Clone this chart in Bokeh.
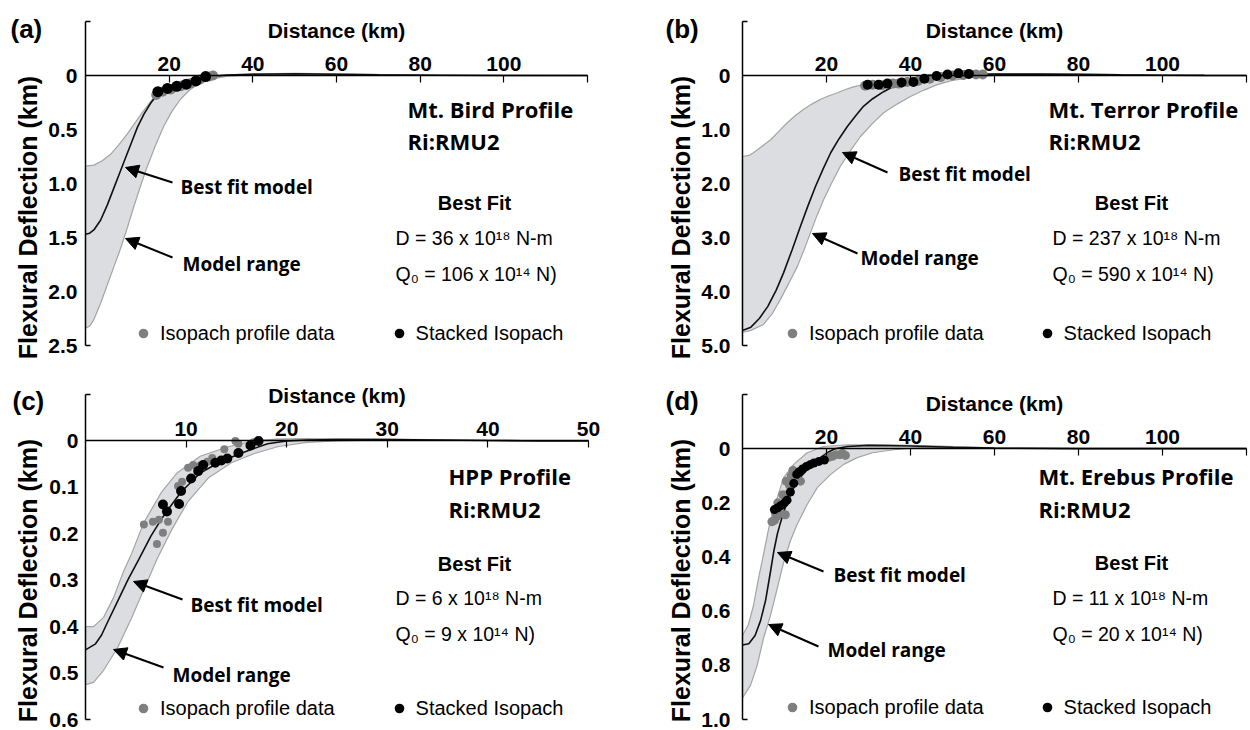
import math

from bokeh.embed import file_html
from bokeh.layouts import column, row
from bokeh.models import (Arrow, FixedTicker, Label, Legend, LegendItem,
                          LinearAxis, NormalHead, Range1d)
from bokeh.plotting import figure
from bokeh.resources import INLINE

# ---------------------------------------------------------------------------
# Flexure profiles (distance in km, deflection in km, positive = downward)
# ---------------------------------------------------------------------------

# (a) Mt. Bird
BIRD_FIT_KM = [0, 1, 2, 3.6, 5.2, 6.7, 8.1, 9.6, 11.0, 12.4, 14.0, 15.6, 17.0,
               18.7, 21.0, 24.4, 27.5, 30.7, 34, 40, 50, 60, 70, 85, 100, 120]
BIRD_FIT_DEPTH = [1.47, 1.46, 1.43, 1.34, 1.20, 1.05, 0.91, 0.76, 0.62, 0.48,
                  0.355, 0.255, 0.185, 0.13, 0.085, 0.045, 0.02, 0.006, -0.004,
                  -0.012, -0.016, -0.012, -0.006, -0.002, 0, 0]
BIRD_TOP_KM = [0, 2, 4, 6, 8, 10, 12, 14, 16, 18, 20, 23, 26, 30, 34, 40, 50,
               60, 75, 90, 120]
BIRD_TOP_DEPTH = [0.84, 0.83, 0.79, 0.73, 0.64, 0.54, 0.43, 0.32, 0.22, 0.145,
                  0.095, 0.05, 0.025, 0.005, -0.006, -0.016, -0.02, -0.015,
                  -0.006, 0, 0]
BIRD_BOTTOM_KM = [0, 1, 2, 3.5, 5.2, 6.8, 8.4, 10, 11.5, 13.1, 14.7, 16.7, 18.7,
                  20.7, 22.7, 25, 27.5, 30.5, 34, 40, 50, 60, 75, 90, 120]
BIRD_BOTTOM_DEPTH = [2.34, 2.32, 2.26, 2.12, 1.94, 1.77, 1.6, 1.41, 1.22, 1.03,
                     0.85, 0.65, 0.47, 0.33, 0.22, 0.13, 0.07, 0.03, 0.005,
                     -0.008, -0.012, -0.009, -0.004, -0.001, 0]
BIRD_ISOPACH_KM = [16.9, 18.4, 20.4, 22.8, 25.0, 27.3, 29.6, 30.5]
BIRD_ISOPACH_DEPTH = [0.18, 0.15, 0.13, 0.10, 0.075, 0.04, 0.01, 0.0]
BIRD_STACKED_KM = [17.3, 19.6, 21.8, 24.1, 26.4, 28.7]
BIRD_STACKED_DEPTH = [0.15, 0.12, 0.10, 0.08, 0.05, 0.01]
BIRD_DIST_TICKS = [20, 40, 60, 80, 100, 120]
BIRD_DIST_LABELS = ["20", "40", "60", "80", "100", ""]
BIRD_DEPTH_TICKS = [0, 0.5, 1.0, 1.5, 2.0, 2.5]
BIRD_DEPTH_LABELS = ["0", "0.5", "1.0", "1.5", "2.0", "2.5"]

# (b) Mt. Terror
TERROR_FIT_KM = [0, 2, 4, 6, 8, 9.8, 11.8, 13.8, 15.6, 17.4, 19.2, 21, 23, 25,
                 27, 28.8, 31, 33.6, 36, 38.3, 40.5, 42.4, 46.4, 50, 55, 60,
                 70, 80, 90, 100, 110, 120]
TERROR_FIT_DEPTH = [4.72, 4.66, 4.5, 4.28, 3.98, 3.65, 3.23, 2.79, 2.41, 2.05,
                    1.73, 1.43, 1.17, 0.94, 0.74, 0.57, 0.43, 0.30, 0.2, 0.13,
                    0.075, 0.04, 0.005, -0.01, -0.02, -0.025, -0.025, -0.02,
                    -0.012, -0.006, -0.002, 0]
TERROR_TOP_KM = [0, 1.5, 2.6, 4.5, 6.7, 8.7, 10.7, 12.6, 14.5, 16.5, 18.6, 20.6,
                 22.6, 24.5, 26.4, 28.5, 30.5, 34.5, 38.3, 42.5, 46.4, 52, 60,
                 70, 80, 95, 110, 120]
TERROR_TOP_DEPTH = [1.50, 1.48, 1.43, 1.32, 1.19, 1.03, 0.87, 0.74, 0.63, 0.53,
                    0.44, 0.375, 0.32, 0.26, 0.21, 0.175, 0.15, 0.105, 0.07,
                    0.04, 0.02, -0.01, -0.03, -0.032, -0.025, -0.012, -0.003, 0]
TERROR_BOTTOM_KM = [0, 2, 5, 7, 9, 11, 13.1, 14.7, 16.2, 17.7, 19.3, 21.3, 23.3,
                    25.7, 28.1, 30.8, 33.6, 36.8, 40, 43.2, 46.4, 50, 55, 60,
                    70, 80, 95, 110, 120]
TERROR_BOTTOM_DEPTH = [4.76, 4.72, 4.61, 4.42, 4.15, 3.85, 3.53, 3.22, 2.91,
                       2.6, 2.3, 1.98, 1.68, 1.39, 1.13, 0.9, 0.69, 0.53, 0.39,
                       0.27, 0.17, 0.09, 0.03, 0.0, -0.018, -0.016, -0.008,
                       -0.002, 0]
TERROR_ISOPACH_KM = [29.2, 31.0, 33.2, 35.8, 37.2, 39.2, 41.8, 44.6, 47.2, 50.0,
                     52.6, 55.6, 57.2]
TERROR_ISOPACH_DEPTH = [0.19, 0.17, 0.18, 0.15, 0.15, 0.12, 0.10, 0.06, 0.03,
                        0.0, -0.01, -0.02, -0.02]
TERROR_STACKED_KM = [29.8, 32.4, 34.5, 37.9, 40.7, 43.3, 46.2, 48.8, 51.4, 53.9]
TERROR_STACKED_DEPTH = [0.17, 0.17, 0.15, 0.13, 0.12, 0.06, 0.01, -0.02, -0.04,
                        -0.03]
TERROR_DIST_TICKS = [20, 40, 60, 80, 100, 120]
TERROR_DIST_LABELS = ["20", "40", "60", "80", "100", ""]
TERROR_DEPTH_TICKS = [0, 1.0, 2.0, 3.0, 4.0, 5.0]
TERROR_DEPTH_LABELS = ["0", "1.0", "2.0", "3.0", "4.0", "5.0"]

# (c) HPP
HPP_FIT_KM = [0, 1, 1.6, 2.2, 3.2, 4.2, 5.3, 6.5, 7.5, 8.1, 9.5, 11.4, 13.4,
              15.1, 16.4, 18.1, 20, 22, 25, 30, 35, 40, 45, 50]
HPP_FIT_DEPTH = [0.45, 0.437, 0.418, 0.39, 0.345, 0.30, 0.255, 0.205, 0.17,
                 0.151, 0.11, 0.069, 0.045, 0.03, 0.019, 0.006, 0.0, -0.002,
                 -0.003, -0.003, -0.002, -0.001, 0, 0]
HPP_TOP_KM = [0, 0.8, 1.8, 2.8, 3.8, 4.5, 5.8, 7.5, 9.1, 11.4, 14.1, 16.7, 19,
              22, 30, 40, 50]
HPP_TOP_DEPTH = [0.40, 0.40, 0.38, 0.337, 0.28, 0.247, 0.176, 0.112, 0.069,
                 0.033, 0.013, 0.0, -0.004, -0.005, -0.004, -0.001, 0]
HPP_BOTTOM_KM = [0, 0.8, 1.8, 3.2, 4.5, 5.8, 7.1, 8.6, 10.2, 12.2, 14.5, 16.8,
                 19.2, 22, 25, 30, 40, 50]
HPP_BOTTOM_DEPTH = [0.525, 0.52, 0.494, 0.445, 0.385, 0.32, 0.255, 0.19, 0.13,
                    0.08, 0.047, 0.027, 0.012, 0.003, 0.0, -0.002, -0.001, 0]
HPP_ISOPACH_KM = [5.8, 6.7, 7.3, 8.2, 7.7, 7.1, 9.2, 9.6, 10.2, 10.7, 11.4, 12.1,
                  12.6, 13.8, 14.9, 15.2, 16.4, 16.7]
HPP_ISOPACH_DEPTH = [0.18, 0.174, 0.17, 0.174, 0.198, 0.222, 0.097, 0.088,
                     0.058, 0.052, 0.053, 0.045, 0.037, 0.018, 0.0, 0.006,
                     0.006, 0.003]
HPP_STACKED_KM = [7.7, 8.1, 9.3, 9.5, 10.5, 11.2, 11.7, 12.9, 13.5, 14.1, 15.2,
                  16.4, 17.2]
HPP_STACKED_DEPTH = [0.137, 0.152, 0.136, 0.108, 0.081, 0.065, 0.052, 0.047,
                     0.042, 0.038, 0.026, 0.010, 0.0]
HPP_DIST_TICKS = [10, 20, 30, 40, 50]
HPP_DIST_LABELS = ["10", "20", "30", "40", "50"]
HPP_DEPTH_TICKS = [0, 0.1, 0.2, 0.3, 0.4, 0.5, 0.6]
HPP_DEPTH_LABELS = ["0", "0.1", "0.2", "0.3", "0.4", "0.5", "0.6"]

# (d) Mt. Erebus
EREBUS_FIT_KM = [0, 1.5, 3, 4.3, 5.5, 6.6, 7.5, 8.3, 9, 10, 11, 12.2, 13.5,
                 15.4, 17, 18.6, 20.5, 22, 25, 30, 40, 50, 60, 80, 120]
EREBUS_FIT_DEPTH = [0.725, 0.72, 0.69, 0.635, 0.56, 0.46, 0.375, 0.315, 0.275,
                    0.225, 0.185, 0.145, 0.11, 0.078, 0.052, 0.032, 0.012, 0.0,
                    -0.008, -0.012, -0.01, -0.005, -0.002, 0, 0]
EREBUS_TOP_KM = [0, 1.4, 2.6, 3.8, 5.0, 6.3, 7.5, 8.3, 9.8, 12.2, 15.4, 19.3,
                 25, 35, 45, 60, 80, 120]
EREBUS_TOP_DEPTH = [0.69, 0.65, 0.58, 0.48, 0.39, 0.29, 0.215, 0.18, 0.107,
                    0.058, 0.015, -0.008, -0.014, -0.014, -0.01, -0.003, 0, 0]
EREBUS_BOTTOM_KM = [0, 1.9, 3.5, 5, 6.7, 8.3, 9.8, 11.4, 13, 15.4, 17.8, 21,
                    24.1, 27.3, 31, 36, 42, 50, 60, 80, 120]
EREBUS_BOTTOM_DEPTH = [0.92, 0.874, 0.80, 0.70, 0.614, 0.514, 0.42, 0.34, 0.28,
                       0.206, 0.144, 0.095, 0.058, 0.033, 0.015, 0.004, -0.004,
                       -0.006, -0.003, 0, 0]
EREBUS_ISOPACH_KM = [7.0, 7.6, 8.2, 8.8, 7.8, 8.4, 10.2, 9.6, 10.6, 11.2, 10.4,
                     11.6, 12.0, 12.6, 13.8, 20.5, 21.4, 22.2, 23.2, 23.8, 24.5]
EREBUS_ISOPACH_DEPTH = [0.27, 0.265, 0.25, 0.24, 0.235, 0.20, 0.244, 0.17, 0.17,
                        0.135, 0.12, 0.10, 0.08, 0.09, 0.12, 0.032, 0.028,
                        0.022, 0.022, 0.018, 0.025]
EREBUS_STACKED_KM = [7.6, 8.4, 9.2, 10.0, 10.6, 11.4, 12.2, 12.9, 13.5, 14.3,
                     15.2, 16.1, 17.0, 18.2, 19.5]
EREBUS_STACKED_DEPTH = [0.225, 0.218, 0.21, 0.20, 0.19, 0.16, 0.128, 0.095,
                        0.085, 0.075, 0.066, 0.059, 0.053, 0.047, 0.042]
EREBUS_DIST_TICKS = [20, 40, 60, 80, 100, 120]
EREBUS_DIST_LABELS = ["20", "40", "60", "80", "100", ""]
EREBUS_DEPTH_TICKS = [0, 0.2, 0.4, 0.6, 0.8, 1.0]
EREBUS_DEPTH_LABELS = ["0", "0.2", "0.4", "0.6", "0.8", "1.0"]

# ---------------------------------------------------------------------------
# Styling / panel layout (pixel margins around each plotting area)
# ---------------------------------------------------------------------------
AXIS_FONT = "Liberation Sans"
NOTE_FONT = "Open Sans"
BAND_FILL = "#dcdde0"
BAND_EDGE = "#a4a4a4"
ISOPACH_GREY = "#7f7f7f"
PANEL_W, PANEL_H = 625, 365

PANELS = [
    dict(tag="(a)", name="Mt. Bird Profile",
         d_text="D = 36 x 10\u00b9\u2078 N-m", q_text="Q\u2080 = 106 x 10\u00b9\u2074 N)",
         fit=(BIRD_FIT_KM, BIRD_FIT_DEPTH), upper=(BIRD_TOP_KM, BIRD_TOP_DEPTH),
         lower=(BIRD_BOTTOM_KM, BIRD_BOTTOM_DEPTH),
         iso=(BIRD_ISOPACH_KM, BIRD_ISOPACH_DEPTH),
         stk=(BIRD_STACKED_KM, BIRD_STACKED_DEPTH),
         xt=(BIRD_DIST_TICKS, BIRD_DIST_LABELS), yt=(BIRD_DEPTH_TICKS, BIRD_DEPTH_LABELS),
         xr=(0, 120), yr=(-0.5, 2.5), fw=502, fh=324, bl=85, bt=21, ystand=8,
         gsize=10, bsize=11,
         pos=dict(tag=(-75, 7), name=(322, 87), sub=(322, 119), best=(389, 181),
                  d=(310, 216), q=(310, 252), fitnote=(95, 165), rangenote=(97, 242),
                  ylab=(-58, 196)),
         arrows=[(87, 161, 40, 146), (87, 236, 40, 217)],
         legend=(46, 312, 52)),
    dict(tag="(b)", name="Mt. Terror Profile",
         d_text="D = 237 x 10\u00b9\u2078 N-m", q_text="Q\u2080 = 590 x 10\u00b9\u2074 N)",
         fit=(TERROR_FIT_KM, TERROR_FIT_DEPTH), upper=(TERROR_TOP_KM, TERROR_TOP_DEPTH),
         lower=(TERROR_BOTTOM_KM, TERROR_BOTTOM_DEPTH),
         iso=(TERROR_ISOPACH_KM, TERROR_ISOPACH_DEPTH),
         stk=(TERROR_STACKED_KM, TERROR_STACKED_DEPTH),
         xt=(TERROR_DIST_TICKS, TERROR_DIST_LABELS), yt=(TERROR_DEPTH_TICKS, TERROR_DEPTH_LABELS),
         xr=(0, 120), yr=(-1.0, 5.0), fw=504, fh=324, bl=117, bt=21, ystand=12,
         gsize=10, bsize=10,
         pos=dict(tag=(-77, 7), name=(306, 87), sub=(306, 119), best=(389, 181),
                  d=(310, 216), q=(310, 252), fitnote=(156, 152), rangenote=(118, 236),
                  ylab=(-62, 196)),
         arrows=[(145, 151, 100, 131), (115, 232, 70, 212)],
         legend=(38, 312, 51)),
    dict(tag="(c)", name="HPP Profile",
         d_text="D = 6 x 10\u00b9\u2078 N-m", q_text="Q\u2080 = 9 x 10\u00b9\u2074 N)",
         fit=(HPP_FIT_KM, HPP_FIT_DEPTH), upper=(HPP_TOP_KM, HPP_TOP_DEPTH),
         lower=(HPP_BOTTOM_KM, HPP_BOTTOM_DEPTH),
         iso=(HPP_ISOPACH_KM, HPP_ISOPACH_DEPTH),
         stk=(HPP_STACKED_KM, HPP_STACKED_DEPTH),
         xt=(HPP_DIST_TICKS, HPP_DIST_LABELS), yt=(HPP_DEPTH_TICKS, HPP_DEPTH_LABELS),
         xr=(0, 50), yr=(-0.1, 0.6), fw=503, fh=325, bl=85, bt=29, ystand=7,
         gsize=8, bsize=10,
         pos=dict(tag=(-73, 6), name=(363, 81), sub=(363, 114), best=(389, 169),
                  d=(310, 203), q=(310, 239), fitnote=(105, 210), rangenote=(87, 280),
                  ylab=(-58, 186)),
         arrows=[(97, 205, 48, 187), (78, 273, 28, 255)],
         legend=(46, 314, 52)),
    dict(tag="(d)", name="Mt. Erebus Profile",
         d_text="D = 11 x 10\u00b9\u2078 N-m", q_text="Q\u2080 = 20 x 10\u00b9\u2074 N)",
         fit=(EREBUS_FIT_KM, EREBUS_FIT_DEPTH), upper=(EREBUS_TOP_KM, EREBUS_TOP_DEPTH),
         lower=(EREBUS_BOTTOM_KM, EREBUS_BOTTOM_DEPTH),
         iso=(EREBUS_ISOPACH_KM, EREBUS_ISOPACH_DEPTH),
         stk=(EREBUS_STACKED_KM, EREBUS_STACKED_DEPTH),
         xt=(EREBUS_DIST_TICKS, EREBUS_DIST_LABELS), yt=(EREBUS_DEPTH_TICKS, EREBUS_DEPTH_LABELS),
         xr=(0, 120), yr=(-0.2, 1.0), fw=504, fh=325, bl=117, bt=29, ystand=12,
         gsize=9, bsize=9,
         pos=dict(tag=(-77, 6), name=(296, 81), sub=(296, 114), best=(389, 168),
                  d=(310, 203), q=(310, 239), fitnote=(91, 180), rangenote=(85, 255),
                  ylab=(-62, 186)),
         arrows=[(81, 177, 35, 158), (76, 252, 26, 230)],
         legend=(38, 313, 51)),
]


def to_data(s, dx, dy):
    """Offset in pixels from the plotting area's top-left corner -> data."""
    x0, x1 = s["xr"]
    ytop, ybot = s["yr"]
    return (x0 + dx / s["fw"] * (x1 - x0),
            ytop + dy / s["fh"] * (ybot - ytop))


def note(p, s, key, text, font, size, bold=True, align="left", angle=0.0):
    x, y = to_data(s, *s["pos"][key])
    p.add_layout(Label(x=x, y=y, text=text, text_font=font,
                       text_font_size=size,
                       text_font_style="bold" if bold else "normal",
                       text_align=align, text_baseline="middle",
                       text_color="black", angle=angle))


def make_panel(s):
    x0, x1 = s["xr"]
    ytop, ybot = s["yr"]
    # the canvas is all frame; margins are expressed as extra range
    kx = (x1 - x0) / s["fw"]
    ky = (ybot - ytop) / s["fh"]
    br = PANEL_W - s["bl"] - s["fw"]
    bb = PANEL_H - s["bt"] - s["fh"]
    xrange = Range1d(x0 - s["bl"] * kx, x1 + br * kx)
    yrange = Range1d(ybot + bb * ky, ytop - s["bt"] * ky)

    p = figure(width=PANEL_W, height=PANEL_H, x_range=xrange, y_range=yrange,
               x_axis_location=None, y_axis_location=None, min_border=0,
               toolbar_location=None, output_backend="svg",
               background_fill_color="white", border_fill_color="white")
    p.outline_line_color = None
    p.grid.visible = False

    # depth axis (labels only) along x = 0
    yticks, ylabels = s["yt"]
    ya = LinearAxis(fixed_location=x0, bounds=(ytop, ybot),
                    ticker=FixedTicker(ticks=yticks),
                    major_label_overrides=dict(zip(yticks, ylabels)),
                    major_tick_in=0, major_tick_out=0,
                    minor_tick_line_color=None,
                    axis_line_color="black", axis_line_width=1.5,
                    major_label_text_font=AXIS_FONT,
                    major_label_text_font_style="bold",
                    major_label_text_font_size="21px",
                    major_label_text_color="black",
                    major_label_standoff=s["ystand"])
    p.add_layout(ya, "left")

    # small end caps on the depth axis
    caps = LinearAxis(fixed_location=x0, bounds=(ytop, ybot),
                      ticker=FixedTicker(ticks=[ytop, ybot]),
                      major_label_overrides={ytop: "", ybot: ""},
                      axis_line_color=None, major_tick_in=5, major_tick_out=0,
                      major_tick_line_width=1.5, major_tick_line_color="black",
                      minor_tick_line_color=None)
    p.add_layout(caps, "left")

    # distance axis along zero deflection
    xticks, xlabels = s["xt"]
    xa = LinearAxis(fixed_location=0, bounds=(x0, x1),
                    ticker=FixedTicker(ticks=xticks),
                    major_label_overrides=dict(zip(xticks, xlabels)),
                    axis_label="Distance (km)",
                    axis_label_text_font=AXIS_FONT,
                    axis_label_text_font_style="bold",
                    axis_label_text_font_size="21px",
                    axis_label_text_color="black",
                    axis_label_standoff=12,
                    major_label_text_font=AXIS_FONT,
                    major_label_text_font_style="bold",
                    major_label_text_font_size="21px",
                    major_label_text_color="black",
                    major_label_standoff=5,
                    major_tick_in=7, major_tick_out=0,
                    major_tick_line_width=1.2, major_tick_line_color="black",
                    minor_tick_line_color=None,
                    axis_line_color="black", axis_line_width=1.5)
    p.add_layout(xa, "above")

    # model range envelope
    band_x = list(s["upper"][0]) + list(reversed(s["lower"][0]))
    band_y = list(s["upper"][1]) + list(reversed(s["lower"][1]))
    p.patch(band_x, band_y, fill_color=BAND_FILL, line_color=BAND_EDGE,
            line_width=1.2)

    # best-fit flexure
    p.line(s["fit"][0], s["fit"][1], line_color="#111111", line_width=1.6)

    g = p.scatter(s["iso"][0], s["iso"][1], size=s["gsize"],
                  fill_color=ISOPACH_GREY, line_color=None)
    b = p.scatter(s["stk"][0], s["stk"][1], size=s["bsize"],
                  fill_color="black", line_color=None)

    # legend row: x offset of first glyph box, y of row centre (from top), gap
    lx, lcy, lsp = s["legend"]
    gbox = 24
    legend = Legend(items=[LegendItem(label="Isopach profile data", renderers=[g]),
                           LegendItem(label="Stacked Isopach", renderers=[b])],
                    orientation="horizontal",
                    location=(s["bl"] + lx, PANEL_H - s["bt"] - lcy - gbox / 2),
                    label_text_font=AXIS_FONT, label_text_font_size="20px",
                    label_text_color="black",
                    glyph_width=gbox, glyph_height=gbox, label_standoff=5,
                    label_height=gbox,
                    spacing=lsp, padding=0, margin=0,
                    border_line_color=None, background_fill_alpha=0)
    p.add_layout(legend, "center")

    # annotations
    note(p, s, "tag", s["tag"], AXIS_FONT, "26px")
    note(p, s, "ylab", "Flexural Deflection (km)", AXIS_FONT, "25px",
         align="center", angle=math.pi / 2)
    note(p, s, "name", s["name"], NOTE_FONT, "22px")
    note(p, s, "sub", "Ri:RMU2", NOTE_FONT, "22px")
    note(p, s, "best", "Best Fit", AXIS_FONT, "20px", align="center")
    note(p, s, "d", s["d_text"], AXIS_FONT, "19.5px", bold=False)
    note(p, s, "q", s["q_text"], AXIS_FONT, "19.5px", bold=False)
    note(p, s, "fitnote", "Best fit model", NOTE_FONT, "19px")
    note(p, s, "rangenote", "Model range", NOTE_FONT, "19px")

    for tx, ty, hx, hy in s["arrows"]:
        xs, ys = to_data(s, tx, ty)
        xe, ye = to_data(s, hx, hy)
        p.add_layout(Arrow(x_start=xs, y_start=ys, x_end=xe, y_end=ye,
                           line_color="black", line_width=2,
                           end=NormalHead(size=13, fill_color="black",
                                          line_color="black", line_width=1)))
    return p


figs = [make_panel(s) for s in PANELS]
layout = column(row(figs[0], figs[1]), row(figs[2], figs[3]))

with open("out.html", "w") as fh:
    fh.write(file_html(layout, INLINE, title="Flexural deflection profiles"))
